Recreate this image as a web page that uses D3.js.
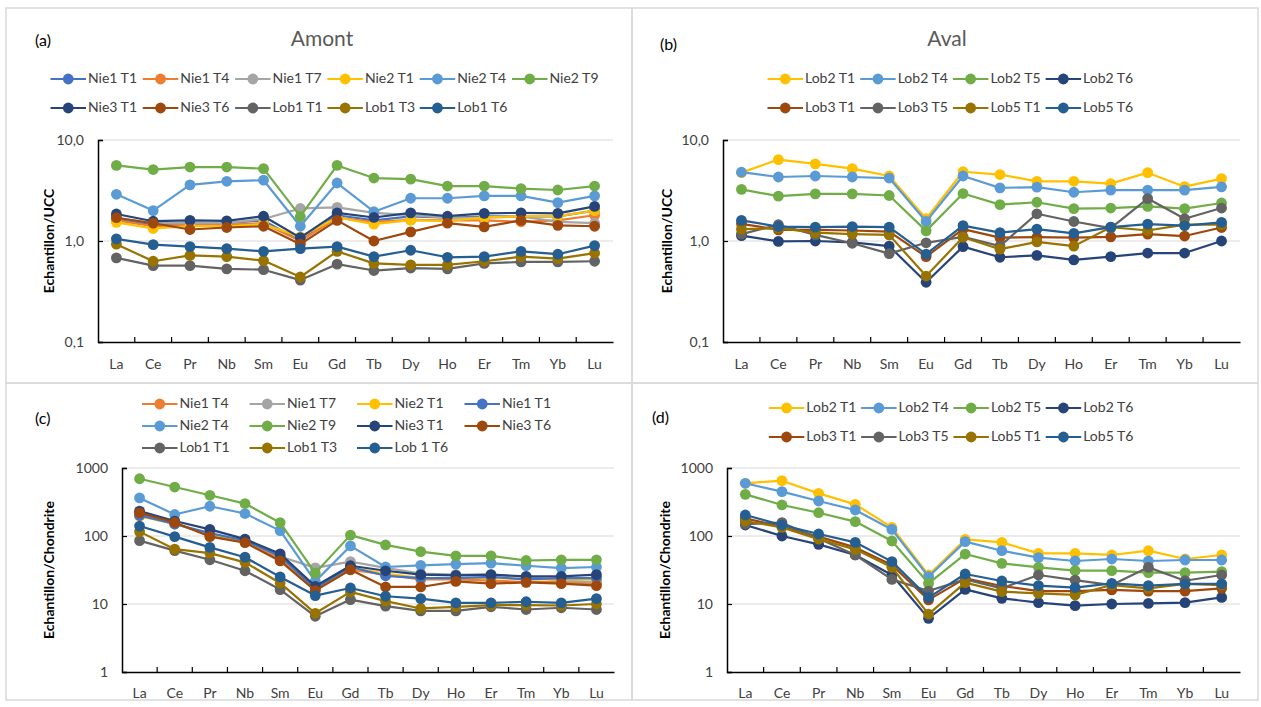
<!DOCTYPE html>
<html><head><meta charset="utf-8">
<script src="https://cdn.jsdelivr.net/npm/d3@7"></script>
<style>
body{margin:0;background:#fff;}
svg{font-family:Lato, "Liberation Sans", sans-serif;}
</style></head>
<body><svg id="c" width="1261" height="707"></svg>
<script>
// ---------- DATA ----------
const elements = ["La","Ce","Pr","Nb","Sm","Eu","Gd","Tb","Dy","Ho","Er","Tm","Yb","Lu"];
const ticksUCC = [0.1, 1, 10];
const tickLabelsUCC = ["0,1","1,0","10,0"];
const ticksChondrite = [1, 10, 100, 1000];
const tickLabelsChondrite = ["1","10","100","1000"];

// (a) Amont, normalised to UCC
const a_Nie1T1 = [1.65,1.45,1.5,1.5,1.6,1.0,1.8,1.6,1.75,1.7,1.75,1.75,1.75,2.0];
const a_Nie1T4 = [1.6,1.4,1.45,1.45,1.5,1.0,1.7,1.55,1.62,1.6,1.6,1.55,1.6,1.8];
const a_Nie1T7 = [1.7,1.5,1.5,1.5,1.65,2.1,2.15,1.9,1.8,1.7,1.7,1.75,1.55,1.5];
const a_Nie2T1 = [1.53,1.33,1.4,1.4,1.47,1.1,1.71,1.47,1.61,1.57,1.71,1.76,1.76,2.0];
const a_Nie2T4 = [2.9,2.0,3.6,3.9,4.0,1.4,3.75,1.95,2.65,2.65,2.8,2.8,2.4,2.8];
const a_Nie2T9 = [5.6,5.1,5.4,5.4,5.2,1.75,5.6,4.2,4.1,3.5,3.5,3.3,3.2,3.5];
const a_Nie3T1 = [1.85,1.57,1.6,1.58,1.76,1.08,1.9,1.71,1.9,1.76,1.88,1.9,1.88,2.2];
const a_Nie3T6 = [1.7,1.5,1.3,1.36,1.4,0.93,1.6,1.0,1.23,1.5,1.38,1.6,1.43,1.4];
const a_Lob1T1 = [0.68,0.57,0.57,0.53,0.52,0.41,0.59,0.51,0.54,0.53,0.60,0.62,0.62,0.63];
const a_Lob1T3 = [0.93,0.63,0.72,0.70,0.64,0.44,0.79,0.60,0.58,0.58,0.63,0.70,0.67,0.76];
const a_Lob1T6 = [1.05,0.92,0.88,0.84,0.79,0.84,0.88,0.70,0.81,0.69,0.70,0.79,0.74,0.9];

// (b) Aval, normalised to UCC
const b_Lob2T1 = [4.75,6.4,5.8,5.2,4.4,1.66,4.85,4.55,3.9,3.9,3.7,4.75,3.45,4.15];
const b_Lob2T4 = [4.8,4.3,4.4,4.3,4.2,1.56,4.4,3.36,3.41,3.04,3.19,3.19,3.19,3.44];
const b_Lob2T5 = [3.24,2.78,2.93,2.93,2.82,1.26,2.95,2.29,2.42,2.09,2.12,2.2,2.09,2.38];
const b_Lob2T6 = [1.13,0.99,1.0,0.97,0.89,0.39,0.88,0.69,0.72,0.65,0.70,0.76,0.76,1.0];
const b_Lob3T1 = [1.48,1.29,1.29,1.27,1.24,0.70,1.31,1.08,1.09,1.08,1.1,1.17,1.12,1.36];
const b_Lob3T5 = [1.17,1.45,1.15,0.95,0.75,0.96,1.1,0.89,1.86,1.56,1.34,2.63,1.66,2.12];
const b_Lob5T1 = [1.31,1.34,1.21,1.17,1.15,0.45,1.09,0.83,0.98,0.89,1.37,1.27,1.45,1.45];
const b_Lob5T6 = [1.6,1.39,1.37,1.39,1.37,0.74,1.42,1.21,1.31,1.19,1.37,1.47,1.42,1.53];

// (c) Amont, normalised to chondrite
const c_Nie1T4 = [205,155,102,82,46,16,32,27,23,23,22,21,21,20];
const c_Nie1T7 = [210,150,105,85,50,34,42,34,28,27,27,25,22,21];
const c_Nie2T1 = [195,150,108,85,50,16.5,34,28,24,24,24.5,23,23,23];
const c_Nie1T1 = [200,150,110,86,50,17,35,26,24,24,25,23,24,24];
const c_Nie2T4 = [363,207,274,214,120,21.5,71.5,35,37,38.6,40,36.5,33.7,35];
const c_Nie2T9 = [695,525,397,300,157,28.5,103,74,59,51,51,43.6,44.7,44.7];
const c_Nie3T1 = [232,166,125,90,54.6,18.2,36.5,30.8,27,26.4,27,25.5,25.5,27];
const c_Nie3T6 = [219,158,98,80,43,15.7,31.9,17.8,17.8,21.5,19.9,20.8,19.9,18.6];
const c_Lob1T1 = [85.5,61,44.7,30.8,16.3,6.6,11.6,9.3,7.9,7.9,9.1,8.3,8.8,8.3];
const c_Lob1T3 = [116,64,56,41,20.4,7.3,15.1,11,8.6,9.1,9.6,9.6,9.5,10];
const c_Lob1T6 = [140,98,68,48.8,25,13.3,17.2,13,12,10.4,10.4,10.8,10.4,12];

// (d) Aval, normalised to chondrite
const d_Lob2T1 = [596,651,424,292,134,26.7,89,80.7,55.6,55.6,52.6,60.8,45.9,52.6];
const d_Lob2T4 = [596,449,327,241,125,25.2,82.6,60.8,48,42.9,45.9,42.9,44.4,44.4];
const d_Lob2T5 = [410,286,220,163,84.4,20.1,54.3,39.6,34.6,30.9,30.9,28.9,28.9,29.9];
const d_Lob2T6 = [145,100,75.4,52.6,26.7,6.15,16.4,12.1,10.5,9.45,10,10.2,10.5,12.5];
const d_Lob3T1 = [182,137,98,68,37.5,11.5,23.8,18.4,15.5,15.5,16.1,15.5,15.5,17];
const d_Lob3T5 = [150,157,92,52.6,23,15.5,23,17,26.7,22.5,19,34.6,22,26.7];
const d_Lob5T1 = [166,134,90,63.7,34.6,7.1,20.6,15.2,14.3,13.6,19,17,19.7,19];
const d_Lob5T6 = [204,145,107,80.7,42,12.4,27.6,21.8,18.6,17.4,20.1,18.6,19.8,19.8];

const namesA = ["Nie1 T1","Nie1 T4","Nie1 T7","Nie2 T1","Nie2 T4","Nie2 T9","Nie3 T1","Nie3 T6","Lob1 T1","Lob1 T3","Lob1 T6"];
const namesB = ["Lob2 T1","Lob2 T4","Lob2 T5","Lob2 T6","Lob3 T1","Lob3 T5","Lob5 T1","Lob5 T6"];
const namesC = ["Nie1 T4","Nie1 T7","Nie2 T1","Nie1 T1","Nie2 T4","Nie2 T9","Nie3 T1","Nie3 T6","Lob1 T1","Lob1 T3","Lob 1 T6"];
const namesD = ["Lob2 T1","Lob2 T4","Lob2 T5","Lob2 T6","Lob3 T1","Lob3 T5","Lob5 T1","Lob5 T6"];

const colorsA = ["#4472C4","#ED7D31","#A5A5A5","#FFC000","#5B9BD5","#70AD47","#264478","#9E480E","#636363","#997300","#255E91"];
const colorsB = ["#FFC000","#5B9BD5","#70AD47","#264478","#9E480E","#636363","#997300","#255E91"];
const colorsC = ["#ED7D31","#A5A5A5","#FFC000","#4472C4","#5B9BD5","#70AD47","#264478","#9E480E","#636363","#997300","#255E91"];
const colorsD = colorsB;

// ---------- LAYOUT ----------
const panels = [
 {box:[6,8,632,383], plot:[98,613,140,342], dom:[0.1,10], ticks:ticksUCC, tickLabels:tickLabelsUCC,
  names:namesA, colors:colorsA, values:[a_Nie1T1,a_Nie1T4,a_Nie1T7,a_Nie2T1,a_Nie2T4,a_Nie2T9,a_Nie3T1,a_Nie3T6,a_Lob1T1,a_Lob1T3,a_Lob1T6],
  legend:{x0:50.5, dx:92.3, rows:[79,108], perRow:6}, title:"Amont", titleX:322, titleY:46, tag:"(a)", tagX:35, tagY:46,
  ylabel:"Echantillon/UCC", ylabelX:50, xlabY:365},
 {box:[632,8,1258,383], plot:[723,1240,140,342], dom:[0.1,10], ticks:ticksUCC, tickLabels:tickLabelsUCC,
  names:namesB, colors:colorsB, values:[b_Lob2T1,b_Lob2T4,b_Lob2T5,b_Lob2T6,b_Lob3T1,b_Lob3T5,b_Lob5T1,b_Lob5T6],
  legend:{x0:767.5, dx:92.7, rows:[79,108], perRow:4}, title:"Aval", titleX:947, titleY:46, tag:"(b)", tagX:660, tagY:50,
  ylabel:"Echantillon/UCC", ylabelX:668, xlabY:365},
 {box:[6,383,632,700], plot:[122,614,468,672], dom:[1,1000], ticks:ticksChondrite, tickLabels:tickLabelsChondrite,
  names:namesC, colors:colorsC, values:[c_Nie1T4,c_Nie1T7,c_Nie2T1,c_Nie1T1,c_Nie2T4,c_Nie2T9,c_Nie3T1,c_Nie3T6,c_Lob1T1,c_Lob1T3,c_Lob1T6],
  legend:{x0:142, dx:107.5, rows:[404,426,448], perRow:4}, title:null, tag:"(c)", tagX:35, tagY:424,
  ylabel:"Echantillon/Chondrite", ylabelX:50, xlabY:694},
 {box:[632,383,1258,700], plot:[727,1240,468,672], dom:[1,1000], ticks:ticksChondrite, tickLabels:tickLabelsChondrite,
  names:namesD, colors:colorsD, values:[d_Lob2T1,d_Lob2T4,d_Lob2T5,d_Lob2T6,d_Lob3T1,d_Lob3T5,d_Lob5T1,d_Lob5T6],
  legend:{x0:768.8, dx:92.3, rows:[408,437], perRow:4}, title:null, tag:"(d)", tagX:652, tagY:423,
  ylabel:"Echantillon/Chondrite", ylabelX:666, xlabY:694}
];

const svg = d3.select("#c");
svg.append("rect").attr("width",1261).attr("height",707).attr("fill","#fff");

panels.forEach(p => {
  const g = svg.append("g");
  const [bx0,by0,bx1,by1] = p.box;
  g.append("rect").attr("x",bx0).attr("y",by0).attr("width",bx1-bx0).attr("height",by1-by0)
    .attr("fill","none").attr("stroke","#D9D9D9").attr("stroke-width",1.5);
  const [px0,px1,py0,py1] = p.plot;
  const x = d3.scaleBand().domain(elements).range([px0,px1]);
  const y = d3.scaleLog().domain(p.dom).range([py1,py0]);

  // gridlines
  g.append("g").selectAll("line").data(p.ticks.slice(1)).join("line")
    .attr("x1",px0).attr("x2",px1).attr("y1",d=>y(d)).attr("y2",d=>y(d))
    .attr("stroke","#D9D9D9").attr("stroke-width",1.2);

  // y axis
  const yAxis = d3.axisLeft(y).tickValues(p.ticks).tickFormat((d,i)=>p.tickLabels[i]).tickSize(-5).tickPadding(14);
  const ya = g.append("g").attr("transform",`translate(${px0},0)`).call(yAxis);
  ya.select(".domain").attr("stroke","#000").attr("stroke-width",1.5);
  ya.selectAll(".tick line").attr("stroke","#000").attr("stroke-width",1.2);
  ya.selectAll(".tick text").attr("font-size",14).attr("fill","#404040").attr("font-family","Lato");

  // x axis
  const xAxis = d3.axisBottom(x).tickSize(0).tickPadding(0);
  const xa = g.append("g").attr("transform",`translate(0,${py1})`).call(xAxis);
  xa.select(".domain").attr("stroke","#000").attr("stroke-width",1.5);
  xa.selectAll(".tick text").attr("font-size",14).attr("fill","#404040").attr("font-family","Lato")
    .attr("dy",0).attr("y",p.xlabY-py1).attr("dominant-baseline","middle");
  // category boundary ticks (inward)
  g.append("g").selectAll("line").data(elements.slice(1)).join("line")
    .attr("x1",d=>x(d)).attr("x2",d=>x(d)).attr("y1",py1).attr("y2",py1-5)
    .attr("stroke","#000").attr("stroke-width",1.2);

  // series
  const line = d3.line().x((d,i)=>x(elements[i])+x.bandwidth()/2).y(d=>y(d));
  p.values.forEach((vals,si) => {
    g.append("path").datum(vals).attr("d",line).attr("fill","none")
      .attr("stroke",p.colors[si]).attr("stroke-width",2.2).attr("stroke-linejoin","round");
    g.append("g").selectAll("circle").data(vals).join("circle")
      .attr("cx",(d,i)=>x(elements[i])+x.bandwidth()/2).attr("cy",d=>y(d)).attr("r",5.4)
      .attr("fill",p.colors[si]);
  });

  // legend
  p.names.forEach((n,i) => {
    const r = Math.floor(i/p.legend.perRow), c = i % p.legend.perRow;
    const lx = p.legend.x0 + c*p.legend.dx, ly = p.legend.rows[r];
    g.append("line").attr("x1",lx).attr("x2",lx+35.5).attr("y1",ly).attr("y2",ly)
      .attr("stroke",p.colors[i]).attr("stroke-width",2.2);
    g.append("circle").attr("cx",lx+17.75).attr("cy",ly).attr("r",5.4).attr("fill",p.colors[i]);
    g.append("text").attr("x",lx+37.5).attr("y",ly).attr("dominant-baseline","middle")
      .attr("font-size",14).attr("fill","#404040").text(n);
  });

  if (p.title) g.append("text").attr("x",p.titleX).attr("y",p.titleY).attr("text-anchor","middle")
      .attr("font-size",21).attr("fill","#595959").text(p.title);
  g.append("text").attr("x",p.tagX).attr("y",p.tagY).attr("font-size",16).attr("fill","#000").text(p.tag);
  const cy = (py0+py1)/2;
  g.append("text").attr("transform",`translate(${p.ylabelX},${cy}) rotate(-90)`).attr("text-anchor","middle")
    .attr("dominant-baseline","middle").attr("font-size",14).attr("font-weight","bold").attr("fill","#000").text(p.ylabel);
});
</script></body></html>
